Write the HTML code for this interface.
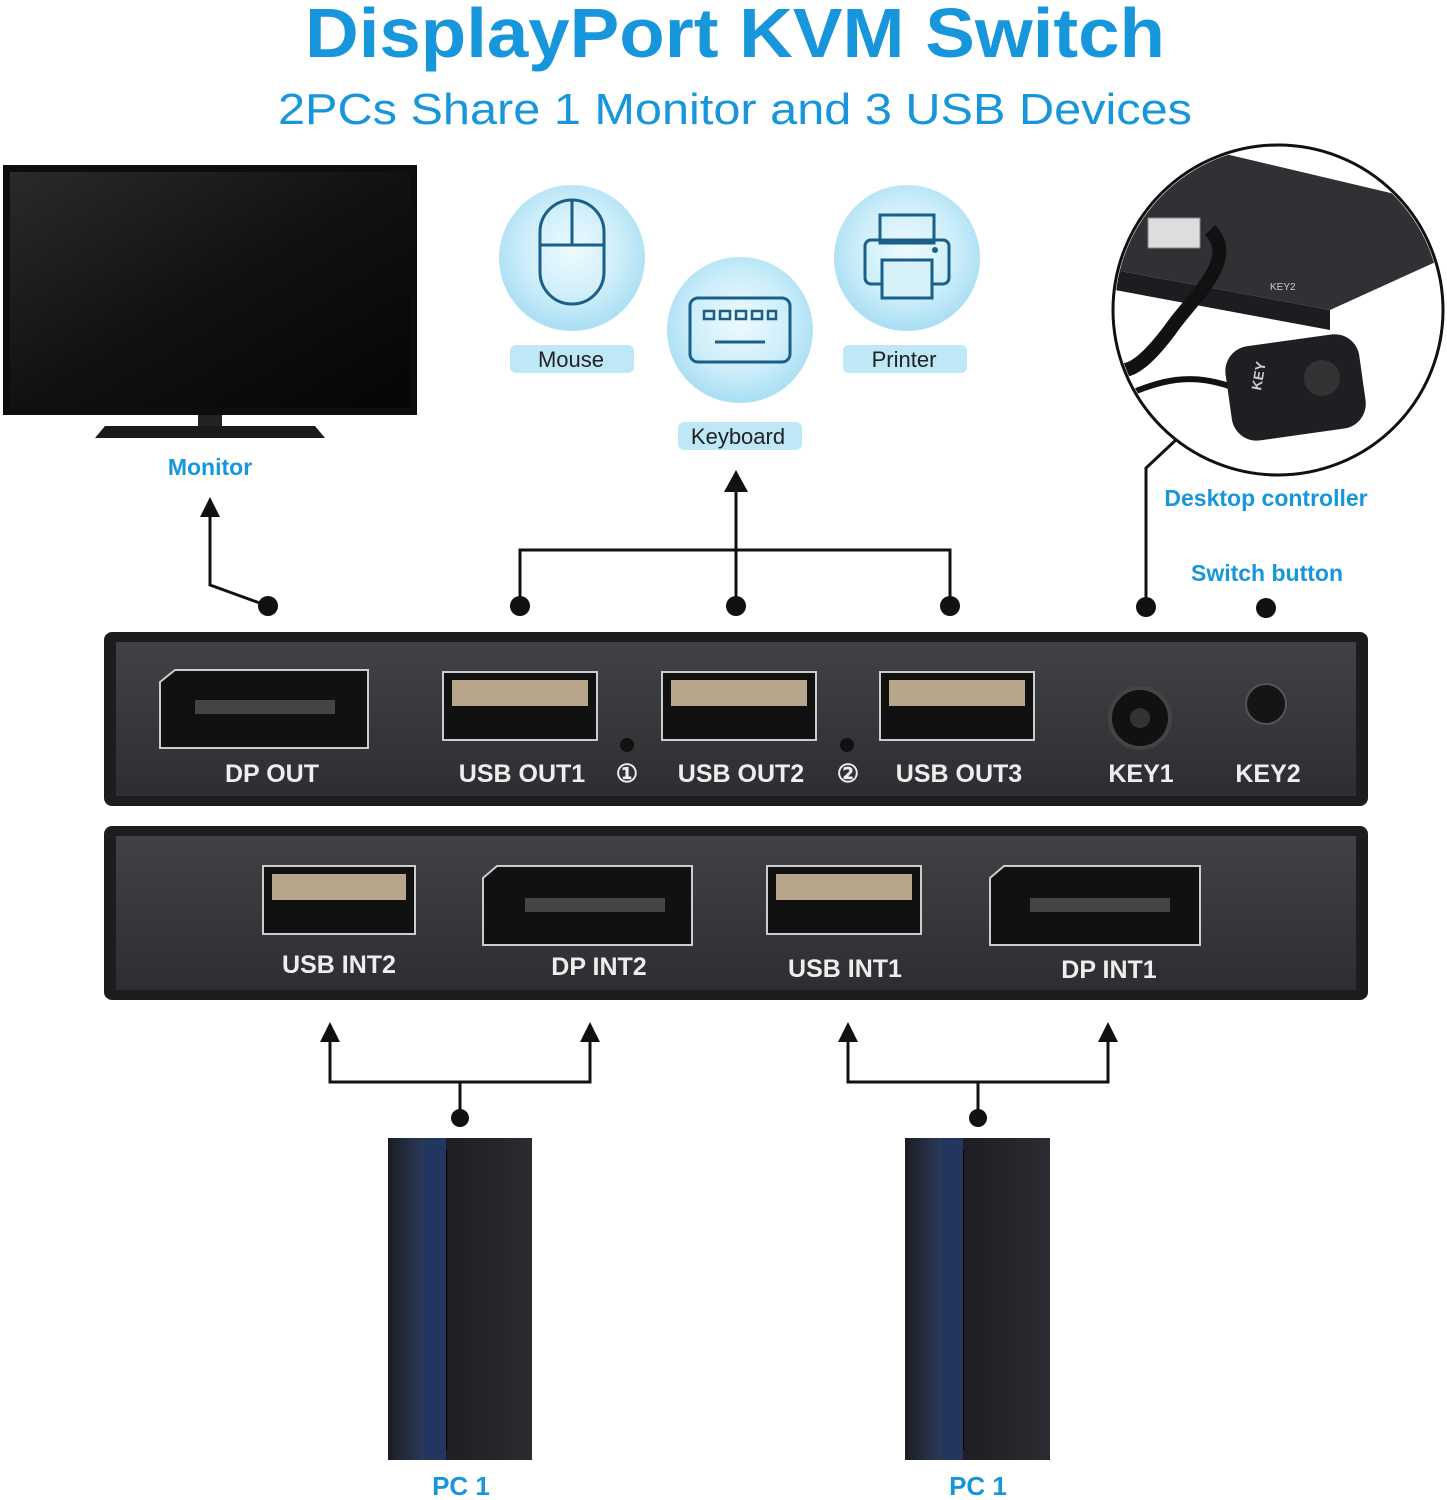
<!DOCTYPE html>
<html><head><meta charset="utf-8"><style>
html,body{margin:0;padding:0;background:#fff;}
svg{display:block;}
text{font-family:"Liberation Sans",sans-serif;}
</style></head><body>
<svg width="1447" height="1500" viewBox="0 0 1447 1500" xmlns="http://www.w3.org/2000/svg">
<defs>
<radialGradient id="ic" cx="50%" cy="45%" r="55%"><stop offset="0" stop-color="#eefafe"/><stop offset="0.6" stop-color="#cdeefa"/><stop offset="1" stop-color="#a9def3"/></radialGradient>
<linearGradient id="pan" x1="0" y1="0" x2="0" y2="1"><stop offset="0" stop-color="#404246"/><stop offset="1" stop-color="#2c2e31"/></linearGradient>
<linearGradient id="pc" x1="0" y1="0" x2="1" y2="0"><stop offset="0" stop-color="#1b1d22"/><stop offset="0.25" stop-color="#2b3a5a"/><stop offset="0.3" stop-color="#1a1c21"/><stop offset="1" stop-color="#2a2c31"/></linearGradient>
<linearGradient id="scr" x1="0" y1="0" x2="1" y2="1"><stop offset="0" stop-color="#2a2a2a"/><stop offset="0.5" stop-color="#111"/><stop offset="1" stop-color="#050505"/></linearGradient>
</defs>

<text x="305" y="57" textLength="860" lengthAdjust="spacingAndGlyphs" font-size="70" font-weight="bold" fill="#1796dc">DisplayPort KVM Switch</text>
<text x="278" y="124" textLength="914" lengthAdjust="spacingAndGlyphs" font-size="44" fill="#1796dc">2PCs Share 1 Monitor and 3 USB Devices</text>

<!-- Monitor -->
<rect x="3" y="165" width="414" height="250" fill="#0d0d0d"/>
<rect x="10" y="172" width="400" height="236" fill="url(#scr)"/>
<rect x="198" y="415" width="24" height="12" fill="#222"/>
<polygon points="95,438 325,438 315,426 105,426" fill="#1a1a1a"/>
<text x="210" y="475" text-anchor="middle" font-size="23" font-weight="bold" fill="#1796dc">Monitor</text>

<!-- connectors -->
<g stroke="#111" stroke-width="3" fill="none">
<polyline points="268,606 210,585 210,512"/>
<polyline points="520,606 520,550 950,550 950,606"/>
<line x1="736" y1="606" x2="736" y2="488"/>
<polyline points="1146,606 1146,468 1178,438"/>
<polyline points="330,1040 330,1082 590,1082 590,1040"/>
<line x1="460" y1="1082" x2="460" y2="1118"/>
<polyline points="848,1040 848,1082 1108,1082 1108,1040"/>
<line x1="978" y1="1082" x2="978" y2="1118"/>
</g>
<g fill="#111">
<polygon points="210,497 200,517 220,517"/>
<polygon points="736,470 724,492 748,492"/>
<polygon points="330,1022 320,1042 340,1042"/>
<polygon points="590,1022 580,1042 600,1042"/>
<polygon points="848,1022 838,1042 858,1042"/>
<polygon points="1108,1022 1098,1042 1118,1042"/>
<circle cx="268" cy="606" r="10"/><circle cx="520" cy="606" r="10"/><circle cx="736" cy="606" r="10"/>
<circle cx="950" cy="606" r="10"/><circle cx="1146" cy="607" r="10"/><circle cx="1266" cy="608" r="10"/>
<circle cx="460" cy="1118" r="9"/><circle cx="978" cy="1118" r="9"/>
</g>

<!-- icons -->
<g>
<circle cx="572" cy="258" r="73" fill="url(#ic)"/>
<rect x="540" y="200" width="64" height="104" rx="32" fill="none" stroke="#1a5f8a" stroke-width="3"/>
<line x1="540" y1="245" x2="604" y2="245" stroke="#1a5f8a" stroke-width="3"/>
<line x1="572" y1="200" x2="572" y2="245" stroke="#1a5f8a" stroke-width="3"/>
<rect x="510" y="345" width="124" height="28" rx="6" fill="#bfe8f6"/>
<text x="571" y="367" text-anchor="middle" font-size="22" fill="#222">Mouse</text>

<circle cx="740" cy="330" r="73" fill="url(#ic)"/>
<rect x="690" y="298" width="100" height="64" rx="8" fill="none" stroke="#1a5f8a" stroke-width="3"/>
<g fill="none" stroke="#1a5f8a" stroke-width="2.5"><rect x="704" y="311" width="10" height="8"/><rect x="720" y="311" width="10" height="8"/><rect x="736" y="311" width="10" height="8"/><rect x="752" y="311" width="10" height="8"/><rect x="768" y="311" width="8" height="8"/></g>
<line x1="715" y1="342" x2="765" y2="342" stroke="#1a5f8a" stroke-width="3"/>
<rect x="678" y="422" width="124" height="28" rx="6" fill="#bfe8f6"/>
<text x="738" y="444" text-anchor="middle" font-size="22" fill="#222">Keyboard</text>

<circle cx="907" cy="258" r="73" fill="url(#ic)"/>
<rect x="880" y="215" width="54" height="28" fill="none" stroke="#1a5f8a" stroke-width="3"/>
<rect x="865" y="240" width="84" height="44" rx="6" fill="none" stroke="#1a5f8a" stroke-width="3"/>
<rect x="882" y="260" width="50" height="38" fill="#d7f1fb" stroke="#1a5f8a" stroke-width="3"/>
<circle cx="935" cy="250" r="3" fill="#1a5f8a"/>
<rect x="843" y="345" width="124" height="28" rx="6" fill="#bfe8f6"/>
<text x="904" y="367" text-anchor="middle" font-size="22" fill="#222">Printer</text>
</g>

<!-- inset -->
<circle cx="1278" cy="310" r="165" fill="#fff" stroke="#111" stroke-width="3"/>
<clipPath id="cc"><circle cx="1278" cy="310" r="163"/></clipPath>
<g clip-path="url(#cc)">
<polygon points="1115,190 1200,148 1420,200 1440,260 1330,310 1115,270" fill="#2f3135"/>
<polygon points="1115,270 1330,310 1330,330 1115,290" fill="#1c1d20"/>
<rect x="1148" y="218" width="52" height="30" fill="#ddd" stroke="#888"/>
<path d="M1210,230 C1240,260 1190,300 1170,330 C1140,370 1120,380 1110,360" stroke="#111" stroke-width="14" fill="none"/>
<path d="M1115,400 C1160,380 1190,370 1240,390" stroke="#111" stroke-width="6" fill="none"/>
<rect x="1228" y="340" width="135" height="95" rx="25" fill="#1e1f22" transform="rotate(-8 1295 387)"/>
<circle cx="1322" cy="378" r="18" fill="#333"/>
<text x="1256" y="395" font-size="14" font-weight="bold" fill="#ccc" transform="rotate(-80 1256 390)">KEY</text>
<text x="1270" y="290" font-size="10" fill="#ccc">KEY2</text>
</g>
<text x="1266" y="506" text-anchor="middle" font-size="23" font-weight="bold" fill="#1796dc">Desktop controller</text>
<text x="1267" y="581" text-anchor="middle" font-size="23" font-weight="bold" fill="#1796dc">Switch button</text>

<!-- top panel -->
<rect x="104" y="632" width="1264" height="174" rx="8" fill="#1c1d20"/>
<rect x="116" y="642" width="1240" height="154" fill="url(#pan)"/>
<g fill="#111" stroke="#ccc" stroke-width="2">
<polygon points="160,682 175,670 368,670 368,748 160,748"/>
<rect x="443" y="672" width="154" height="68"/>
<rect x="662" y="672" width="154" height="68"/>
<rect x="880" y="672" width="154" height="68"/>
</g>
<rect x="195" y="700" width="140" height="14" fill="#444"/>
<g fill="#b8a68a"><rect x="452" y="680" width="136" height="26"/><rect x="671" y="680" width="136" height="26"/><rect x="889" y="680" width="136" height="26"/></g>
<circle cx="627" cy="745" r="7" fill="#111"/><circle cx="847" cy="745" r="7" fill="#111"/>
<circle cx="1140" cy="718" r="30" fill="#111" stroke="#444" stroke-width="4"/><circle cx="1140" cy="718" r="10" fill="#333"/>
<circle cx="1266" cy="704" r="20" fill="#151515" stroke="#555" stroke-width="2"/>
<g font-size="25" font-weight="bold" fill="#eee" text-anchor="middle">
<text x="272" y="782">DP OUT</text><text x="522" y="782">USB OUT1</text><text x="627" y="782">①</text>
<text x="741" y="782">USB OUT2</text><text x="848" y="782">②</text><text x="959" y="782">USB OUT3</text>
<text x="1141" y="782">KEY1</text><text x="1268" y="782">KEY2</text>
</g>

<!-- bottom panel -->
<rect x="104" y="826" width="1264" height="174" rx="8" fill="#1c1d20"/>
<rect x="116" y="836" width="1240" height="154" fill="url(#pan)"/>
<g fill="#111" stroke="#ccc" stroke-width="2">
<rect x="263" y="866" width="152" height="68"/>
<polygon points="483,878 497,866 692,866 692,945 483,945"/>
<rect x="767" y="866" width="154" height="68"/>
<polygon points="990,878 1004,866 1200,866 1200,945 990,945"/>
</g>
<g fill="#b8a68a"><rect x="272" y="874" width="134" height="26"/><rect x="776" y="874" width="136" height="26"/></g>
<rect x="525" y="898" width="140" height="14" fill="#444"/><rect x="1030" y="898" width="140" height="14" fill="#444"/>
<g font-size="25" font-weight="bold" fill="#eee" text-anchor="middle">
<text x="339" y="973">USB INT2</text><text x="599" y="975">DP INT2</text>
<text x="845" y="977">USB INT1</text><text x="1109" y="978">DP INT1</text>
</g>

<!-- PCs -->
<g>
<rect x="388" y="1138" width="144" height="322" fill="url(#pc)"/>
<rect x="424" y="1138" width="22" height="322" fill="#233660"/>
<rect x="446" y="1150" width="1" height="300" fill="#000"/>
<rect x="905" y="1138" width="145" height="322" fill="url(#pc)"/>
<rect x="941" y="1138" width="22" height="322" fill="#233660"/>
<rect x="963" y="1150" width="1" height="300" fill="#000"/>
</g>
<text x="461" y="1495" text-anchor="middle" font-size="26" font-weight="bold" fill="#1796dc">PC 1</text>
<text x="978" y="1495" text-anchor="middle" font-size="26" font-weight="bold" fill="#1796dc">PC 1</text>
</svg>
</body></html>
